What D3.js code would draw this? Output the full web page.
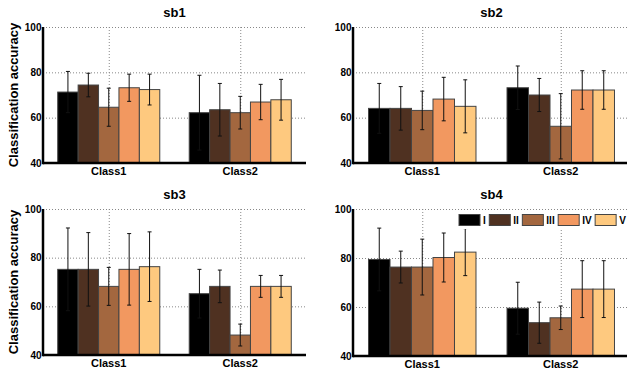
<!DOCTYPE html>
<html>
<head>
<meta charset="utf-8">
<script src="https://cdn.jsdelivr.net/npm/d3@7"></script>
<style>
  body { margin: 0; background: #fff; }
  text { font-family: "Liberation Sans", Arial, Helvetica, sans-serif; font-weight: bold; fill: #000; }
</style>
</head>
<body>
<svg id="chart" width="627" height="371"></svg>
<script>
let width = 627;
let height = 371;

let classes = ["Class1", "Class2"];
let series = ["I", "II", "III", "IV", "V"];
let colors = ["#000000", "#4f3121", "#a3673f", "#f29860", "#fec97f"];
let yTicks = [40, 60, 80, 100];

// means and errors, one row per class
let sb1Mean = [[71.3, 74.4, 64.6, 73.2, 72.4], [62.2, 63.5, 62.2, 66.9, 67.9]];
let sb1Err = [[9.1, 5.2, 8.4, 6.0, 6.8], [16.5, 11.6, 7.2, 7.8, 9.0]];
let sb2Mean = [[64.1, 64.1, 63.2, 68.2, 65.0], [73.2, 70.0, 56.2, 72.2, 72.2]];
let sb2Err = [[11.0, 9.6, 8.5, 9.6, 11.7], [9.6, 7.3, 14.4, 8.5, 8.5]];
let sb3Mean = [[75.2, 75.2, 68.2, 75.2, 76.3], [65.2, 68.2, 48.2, 68.2, 68.2]];
let sb3Err = [[17.0, 15.1, 7.8, 14.7, 14.3], [10.0, 6.7, 4.5, 4.5, 4.5]];
let sb4Mean = [[79.4, 76.3, 76.3, 80.2, 82.4], [59.5, 53.6, 55.6, 67.3, 67.3]];
let sb4Err = [[12.8, 6.5, 11.4, 10.0, 9.6], [10.6, 8.4, 4.8, 11.6, 11.6]];

let panels = [
    {title: "sb1", mean: sb1Mean, err: sb1Err, left: 43, right: 306, top: 27, bottom: 163, ylabel: true},
    {title: "sb2", mean: sb2Mean, err: sb2Err, left: 353, right: 630, top: 27, bottom: 163, ylabel: false},
    {title: "sb3", mean: sb3Mean, err: sb3Err, left: 43, right: 306, top: 209, bottom: 355, ylabel: true},
    {title: "sb4", mean: sb4Mean, err: sb4Err, left: 353, right: 630, top: 209, bottom: 356, ylabel: false, legend: true}
];

let svg = d3.select("#chart");

function drawPanel(p) {
    let g = svg.append("g");

    let x = d3.scaleBand().domain(classes).range([p.left, p.right]).padding(0);
    let groupW = x.bandwidth() * 0.776;
    let xInner = d3.scaleBand().domain(series)
        .range([(x.bandwidth() - groupW) / 2, (x.bandwidth() + groupW) / 2]);
    let y = d3.scaleLinear().domain([40, 100]).range([p.bottom, p.top]);

    // grid
    g.selectAll(".hgrid").data(yTicks.slice(1)).enter().append("line")
        .attr("x1", p.left).attr("x2", p.right)
        .attr("y1", d => y(d) + 0.5).attr("y2", d => y(d) + 0.5)
        .attr("stroke", "#888").attr("stroke-dasharray", "1,2");
    g.selectAll(".vgrid").data(classes).enter().append("line")
        .attr("x1", d => x(d) + x.bandwidth() / 2 + 0.5).attr("x2", d => x(d) + x.bandwidth() / 2 + 0.5)
        .attr("y1", p.top).attr("y2", p.bottom)
        .attr("stroke", "#888").attr("stroke-dasharray", "1,2");

    // bars
    let groups = g.selectAll(".grp").data(classes).enter().append("g")
        .attr("transform", d => "translate(" + x(d) + ",0)");

    groups.selectAll("rect").data((d, i) => series.map((s, j) => ({s: s, j: j, v: p.mean[i][j], e: p.err[i][j]})))
        .enter().append("rect")
        .attr("x", d => xInner(d.s))
        .attr("width", xInner.bandwidth())
        .attr("y", d => y(d.v))
        .attr("height", d => y(40) - y(d.v))
        .attr("fill", d => colors[d.j])
        .attr("stroke", "#444")
        .attr("stroke-width", 1);

    // error bars
    let eb = groups.selectAll(".eb").data((d, i) => series.map((s, j) => ({s: s, v: p.mean[i][j], e: p.err[i][j]})))
        .enter().append("g");
    eb.append("line")
        .attr("x1", d => xInner(d.s) + xInner.bandwidth() / 2)
        .attr("x2", d => xInner(d.s) + xInner.bandwidth() / 2)
        .attr("y1", d => y(d.v + d.e)).attr("y2", d => y(Math.max(40, d.v - d.e)))
        .attr("stroke", "#111").attr("stroke-width", 1);
    eb.append("line")
        .attr("x1", d => xInner(d.s) + xInner.bandwidth() / 2 - 2)
        .attr("x2", d => xInner(d.s) + xInner.bandwidth() / 2 + 2)
        .attr("y1", d => y(d.v + d.e)).attr("y2", d => y(d.v + d.e))
        .attr("stroke", "#111").attr("stroke-width", 1);
    eb.append("line")
        .attr("x1", d => xInner(d.s) + xInner.bandwidth() / 2 - 2)
        .attr("x2", d => xInner(d.s) + xInner.bandwidth() / 2 + 2)
        .attr("y1", d => y(d.v - d.e)).attr("y2", d => y(d.v - d.e))
        .attr("stroke", "#111").attr("stroke-width", 1);

    // axes
    g.append("line")
        .attr("x1", p.left).attr("x2", p.right)
        .attr("y1", p.bottom).attr("y2", p.bottom)
        .attr("stroke", "#000").attr("stroke-width", 2.5);
    g.append("line")
        .attr("x1", p.left).attr("x2", p.left)
        .attr("y1", p.top).attr("y2", p.bottom + 1.25)
        .attr("stroke", "#000").attr("stroke-width", 2.5);

    g.selectAll(".ytl").data(yTicks).enter().append("text")
        .attr("x", p.left - 1.5)
        .attr("y", d => y(d) + 3.5)
        .attr("text-anchor", "end")
        .attr("font-size", 10)
        .text(d => d);

    g.selectAll(".xtl").data(classes).enter().append("text")
        .attr("x", d => x(d) + x.bandwidth() / 2)
        .attr("y", p.bottom + 12)
        .attr("text-anchor", "middle")
        .attr("font-size", 11)
        .text(d => d);

    g.append("text")
        .attr("x", (p.left + p.right) / 2)
        .attr("y", p.top - 10)
        .attr("text-anchor", "middle")
        .attr("font-size", 13)
        .text(p.title);

    if (p.ylabel) {
        g.append("text")
            .attr("transform", "translate(18," + ((p.top + p.bottom) / 2) + ") rotate(-90)")
            .attr("text-anchor", "middle")
            .attr("font-size", 13)
            .text("Classification accuracy");
    }

    if (p.legend) {
        let lg = g.append("g");
        lg.append("rect")
            .attr("x", 456).attr("y", p.top + 2)
            .attr("width", p.right - 456).attr("height", 18)
            .attr("fill", "#fff");
        let cx = 459;
        series.forEach((s, j) => {
            lg.append("rect")
                .attr("x", cx).attr("y", p.top + 5.5)
                .attr("width", 21).attr("height", 11)
                .attr("fill", colors[j]).attr("stroke", "#444");
            let t = lg.append("text")
                .attr("x", cx + 24).attr("y", p.top + 15)
                .attr("font-size", 10)
                .text(s);
            cx += 24 + t.node().getComputedTextLength() + 3.5;
        });
    }
}

panels.forEach(drawPanel);
</script>
</body>
</html>
